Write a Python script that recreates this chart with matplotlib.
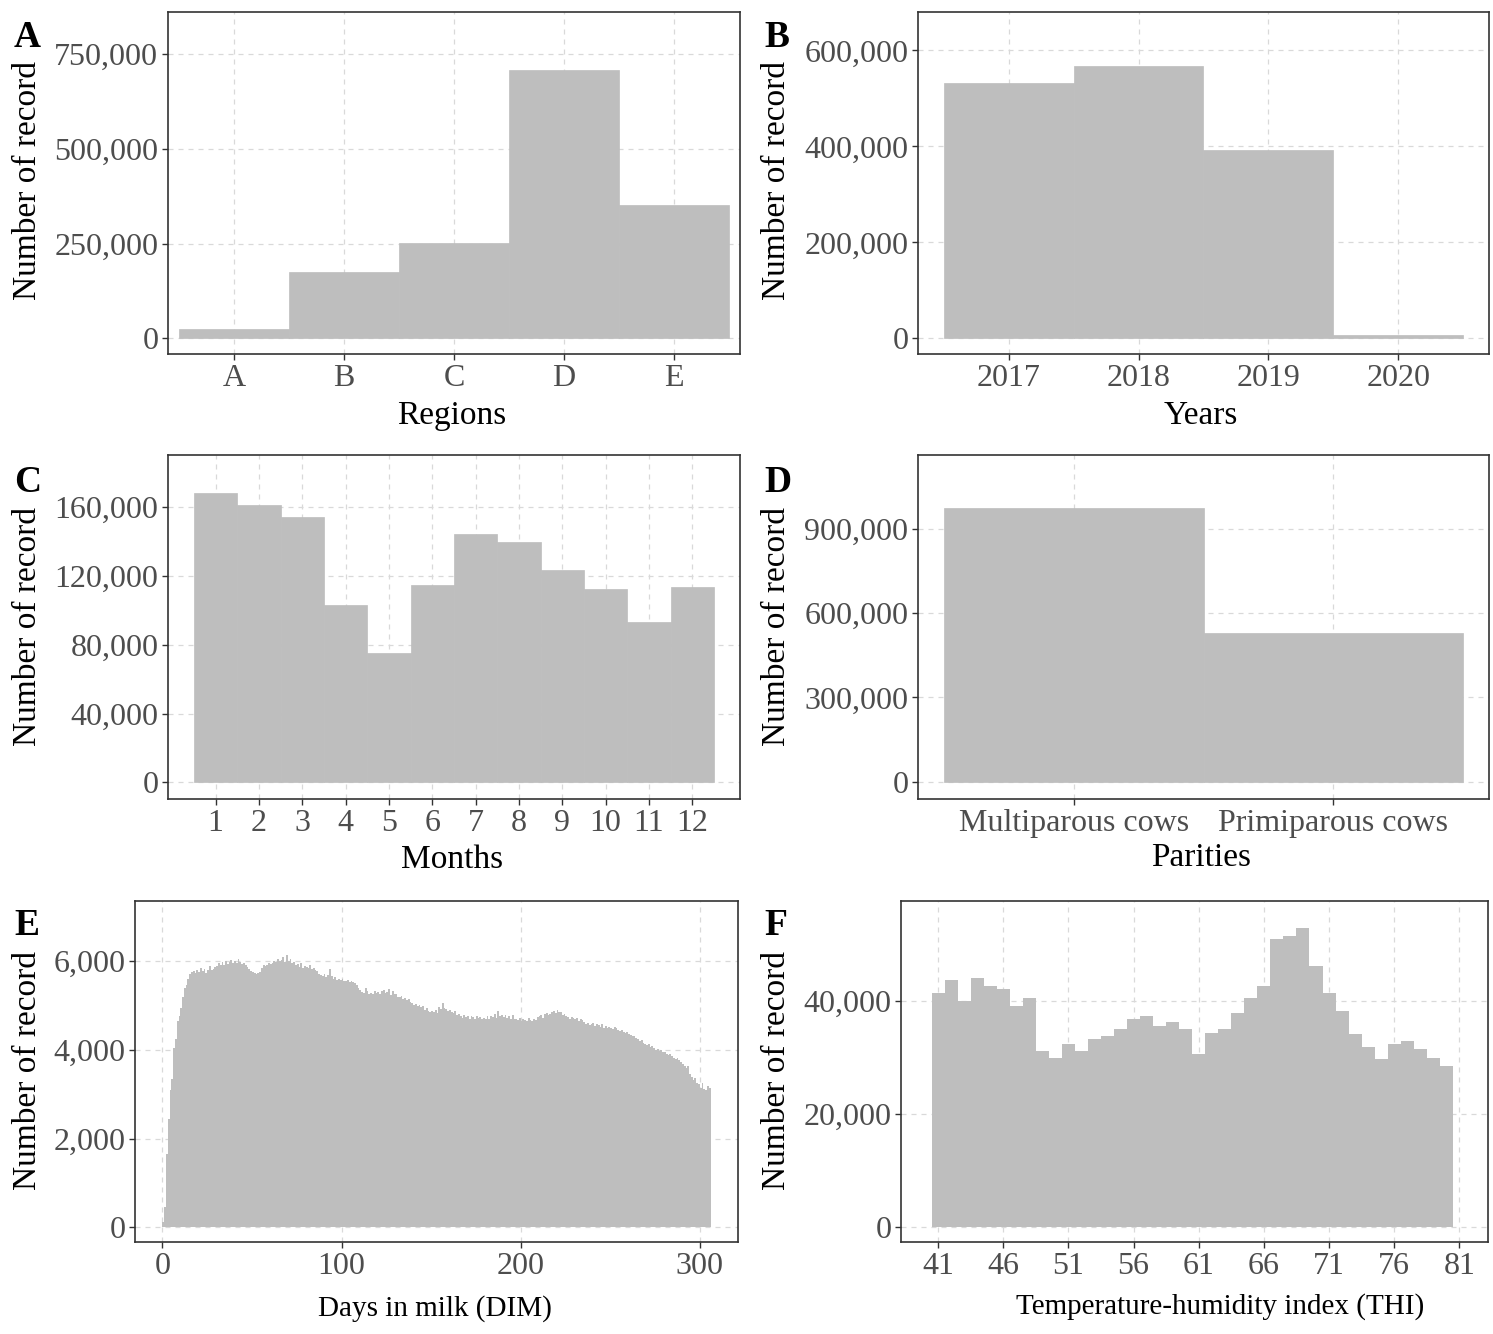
import matplotlib
matplotlib.use('Agg')
import matplotlib.pyplot as plt
import numpy as np
from matplotlib.ticker import FuncFormatter


# data
regions = ['A', 'B', 'C', 'D', 'E']
region_n = [26000, 176000, 251000, 708000, 352000]

years = [2017, 2018, 2019, 2020]
year_n = [532000, 567000, 393000, 7000]

months = list(range(1, 13))
month_n = [168100, 161200, 154600, 103200, 75100, 114800,
           144700, 139800, 123500, 112700, 93300, 113800]

parities = ['Multiparous cows', 'Primiparous cows']
parity_n = [973500, 528300]

dim_days = list(range(0, 306))
dim_n = [
    120, 450, 1650, 2450, 3100, 3350, 4050, 4250, 4650, 4750,
    4950, 5200, 5400, 5450, 5600, 5700, 5750, 5780, 5720, 5800,
    5760, 5850, 5780, 5820, 5740, 5800, 5880, 5790, 5830, 5860,
    5880, 5950, 5900, 5970, 5920, 6000, 5940, 5980, 6020, 5960,
    5990, 5950, 6050, 5980, 5930, 5960, 5900, 5870, 5820, 5780,
    5750, 5720, 5700, 5730, 5760, 5850, 5900, 5880, 5920, 5950,
    5930, 5960, 6000, 5980, 6050, 5990, 6020, 6100, 5970, 6130,
    5990, 6040, 5950, 5980, 5900, 5940, 5870, 5960, 5850, 5880,
    5860, 5840, 5900, 5820, 5850, 5800, 5780, 5700, 5680, 5660,
    5700, 5640, 5680, 5820, 5660, 5600, 5630, 5580, 5600, 5570,
    5590, 5560, 5540, 5580, 5520, 5550, 5530, 5500, 5460, 5400,
    5350, 5300, 5280, 5400, 5320, 5260, 5290, 5250, 5330, 5270,
    5300, 5260, 5320, 5350, 5280, 5300, 5380, 5240, 5330, 5260,
    5250, 5200, 5180, 5220, 5150, 5170, 5120, 5140, 5080, 5050,
    5020, 5040, 4990, 5010, 4960, 4980, 4900, 4940, 4870, 4850,
    4880, 4850, 4900, 4830, 4960, 4920, 5050, 4940, 4910, 4880,
    4900, 4860, 4820, 4880, 4780, 4800, 4760, 4720, 4790, 4740,
    4750, 4700, 4770, 4730, 4690, 4760, 4710, 4740, 4700, 4720,
    4690, 4750, 4700, 4760, 4730, 4800, 4720, 4870, 4760, 4790,
    4740, 4790, 4720, 4760, 4700, 4780, 4690, 4700, 4670, 4720,
    4650, 4700, 4680, 4650, 4720, 4680, 4640, 4700, 4660, 4740,
    4760, 4790, 4720, 4800, 4830, 4790, 4810, 4850, 4880, 4830,
    4900, 4860, 4840, 4780, 4800, 4760, 4730, 4700, 4740, 4710,
    4690, 4720, 4650, 4700, 4680, 4620, 4580, 4600, 4550, 4570,
    4600, 4540, 4580, 4560, 4520, 4570, 4500, 4540, 4490, 4510,
    4500, 4470, 4520, 4480, 4450, 4420, 4440, 4390, 4370, 4400,
    4350, 4330, 4300, 4310, 4260, 4240, 4200, 4220, 4160, 4130,
    4100, 4120, 4060, 4080, 4030, 4000, 4020, 3970, 3990, 3950,
    3960, 3910, 3880, 3900, 3850, 3820, 3790, 3810, 3760, 3720,
    3680, 3640, 3600, 3630, 3450, 3380, 3330, 3360, 3250, 3220,
    3150, 3250, 3120, 3100, 3180, 3130,
]

thi_vals = list(range(41, 81))
thi_n = [
    41500, 43800, 40000, 44000, 42600, 42100, 39100, 40600, 31200, 30000,
    32400, 31200, 33200, 33800, 35000, 36800, 37400, 35600, 36200, 35000,
    30600, 34400, 35000, 37900, 40600, 42600, 50900, 51500, 52900, 46200,
    41500, 38200, 34100, 31800, 29700, 32400, 32900, 31500, 30000, 28500,
]

xt_dim = [0, 100, 200, 300]
xt_thi = [41, 46, 51, 56, 61, 66, 71, 76, 81]


# params
W, H = 1493, 1334
barcol = '#bebebe'
tickfs = 23
labfs = 24
plt.rcParams['font.family'] = ['Liberation Serif', 'DejaVu Serif']


# sup func
def _pos(l, r, t, b):
    return [l / W, 1 - b / H, (r - l) / W, (b - t) / H]


def _fig_text(fig, x, y, s, **kw):
    fig.text(x / W, 1 - y / H, s, **kw)


def _style(ax, ylim, xlim):
    ax.set_ylim(*ylim)
    ax.set_xlim(*xlim)
    ax.grid(True, ls=(0, (4, 4)), color='#d9d9d9', lw=0.9)
    ax.set_axisbelow(True)
    for sp in ax.spines.values():
        sp.set_linewidth(1.2)
        sp.set_color('#333333')
    ax.tick_params(length=4, width=1, color='#333333', labelsize=tickfs,
                   labelcolor='#4d4d4d', pad=3)
    ax.yaxis.set_major_formatter(FuncFormatter(lambda v, p: f'{int(v):,}'))


fig = plt.figure(figsize=(W / 100, H / 100), dpi=100)

## A
axA = fig.add_axes(_pos(168, 740, 12, 354))
axA.bar(np.arange(1, 6), region_n, width=1, color=barcol, lw=0.5, ec=barcol)
axA.set_xticks(np.arange(1, 6), regions)
axA.set_yticks([0, 250000, 500000, 750000])
_style(axA, (-41000, 860000), (0.4, 5.6))

## B
axB = fig.add_axes(_pos(918, 1489, 12, 354))
axB.bar(years, year_n, width=1, color=barcol, lw=0.5, ec=barcol)
axB.set_xticks(years, [str(y) for y in years])
axB.set_yticks([0, 200000, 400000, 600000])
_style(axB, (-32700, 680000), (2016.3, 2020.7))

## C
axC = fig.add_axes(_pos(168, 740, 455, 799))
axC.bar(months, month_n, width=1, color=barcol, lw=0.5, ec=barcol)
axC.set_xticks(months, [str(m) for m in months])
axC.set_yticks([0, 40000, 80000, 120000, 160000])
_style(axC, (-9700, 190400), (-0.1, 13.1))

## D
axD = fig.add_axes(_pos(918, 1489, 455, 799))
axD.bar([1, 2], parity_n, width=1, color=barcol, lw=0.5, ec=barcol)
axD.set_xticks([1, 2], parities)
axD.set_yticks([0, 300000, 600000, 900000])
_style(axD, (-61700, 1163000), (0.4, 2.6))

## E
axE = fig.add_axes(_pos(135, 738, 901, 1242))
axE.stairs(dim_n, np.arange(dim_days[0], dim_days[-1] + 2), fill=True,
           color=barcol, lw=0)
axE.set_xticks(xt_dim)
axE.set_yticks([0, 2000, 4000, 6000])
_style(axE, (-331, 7352), (-15.3, 321.3))

## F
axF = fig.add_axes(_pos(901, 1488, 901, 1242))
axF.stairs(thi_n, np.arange(thi_vals[0] - 0.5, thi_vals[-1] + 1.5), fill=True,
           color=barcol, lw=0)
axF.set_xticks(xt_thi)
axF.set_yticks([0, 20000, 40000])
_style(axF, (-2650, 57700), (38.15, 83.2))

# labels
_labs = [
    # letter, ylab x, ylab y, letter x, letter base, xlabel, xlabel x, xlabel base
    ('A', 28, 180, 14, 47, 'Regions', 452, 424),
    ('B', 777, 180, 764, 47, 'Years', 1201, 424),
    ('C', 28, 627, 14, 492, 'Months', 452, 868),
    ('D', 777, 627, 764, 492, 'Parities', 1201, 866),
    ('E', 28, 1071, 14, 935, 'Days in milk (DIM)', 435, 1316),
    ('F', 777, 1071, 764, 935, 'Temperature-humidity index (THI)', 1220, 1314),
]
for let, ylx, yly, lx, lb, xl, xlx, xlb in _labs:
    _fig_text(fig, ylx, yly, 'Number of record', rotation=90, ha='center',
              va='center', fontsize=labfs)
    _fig_text(fig, lx, lb, let, ha='left', va='baseline', fontsize=27,
              fontweight='bold')
    fs = 21 if let in 'EF' else labfs
    _fig_text(fig, xlx, xlb, xl, ha='center', va='baseline', fontsize=fs)

fig.savefig('out.png', dpi=100)
